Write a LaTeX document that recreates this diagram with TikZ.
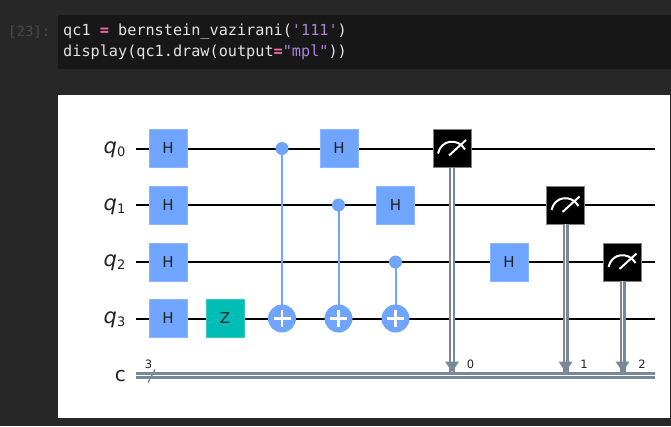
\documentclass[tikz,border=0pt]{standalone}
\usepackage{fontspec}
\setmainfont{DejaVu Sans}
\setmonofont{DejaVu Sans Mono}
\usetikzlibrary{arrows.meta,calc}
\definecolor{pagebg}{HTML}{272727}
\definecolor{cellbg}{HTML}{171717}
\definecolor{codefg}{HTML}{E4E4E4}
\definecolor{promptfg}{HTML}{4A4A4A}
\definecolor{kwpink}{HTML}{FF6AB0}
\definecolor{strpurple}{HTML}{A884E0}
\definecolor{gateblue}{HTML}{6FA4FF}
\definecolor{gateteal}{HTML}{00BDB5}
\definecolor{classic}{HTML}{778899}
\definecolor{labelfg}{HTML}{222222}
\tikzset{
  x=1pt,y=-1pt,
  wire/.style={draw=black,line width=2pt},
  gatebox/.style={draw=gateblue!80!white,line width=.4pt,fill=gateblue,minimum size=38pt,inner sep=0pt,text=labelfg,font=\fontsize{15}{15}\selectfont},
  zbox/.style={gatebox,draw=gateteal!80!white,fill=gateteal},
  measbox/.style={draw=gray,line width=.4pt,fill=black,minimum size=38pt,inner sep=0pt},
  ctrl/.style={circle,fill=gateblue,minimum size=13pt,inner sep=0pt},
  target/.style={circle,fill=gateblue,minimum size=28pt,inner sep=0pt},
  ctrlline/.style={draw=gateblue,line width=2pt},
  qlabel/.style={anchor=east,text=labelfg,font=\fontsize{21}{21}\selectfont\itshape,inner sep=0pt},
  numlabel/.style={text=labelfg,font=\fontsize{11.5}{12}\selectfont,inner sep=0pt},
  codeline/.style={anchor=west,inner sep=0pt,text=codefg,font=\ttfamily\fontsize{15.2}{15.2}\selectfont},
}
\newcommand{\plussign}[1]{%
  \draw[white,line width=2.2pt] ($(#1)+(-8.5,0)$) -- ($(#1)+(8.5,0)$);
  \draw[white,line width=2.2pt] ($(#1)+(0,-8.5)$) -- ($(#1)+(0,8.5)$);}
\newcommand{\meter}[1]{%
  \draw[white,line width=2pt] ($(#1)+(-14,5)$) .. controls ($(#1)+(-11,-9)$) and ($(#1)+(6,-11)$) .. ($(#1)+(13,1)$);
  \draw[white,line width=2pt] ($(#1)+(-3,7)$) -- ($(#1)+(14,-8.5)$);}
\newcommand{\readout}[2]{%
  \draw[classic,line width=6pt] (#1) -- (#2);
  \draw[white,line width=1.4pt] (#1) -- (#2);
  \fill[classic] ($(#2)+(-7,-10.5)$) -- ($(#2)+(7,-10.5)$) -- (#2) -- cycle;}
\newcommand{\qsub}[1]{q\textsubscript{\normalfont\fontsize{13}{13}\selectfont #1}}
\begin{document}
\begin{tikzpicture}
\useasboundingbox (0,0) rectangle (671,426);
\fill[pagebg] (0,0) rectangle (671,426);
\fill[cellbg] (58,15) rectangle (671,69);
\fill[white] (58,95) rectangle (670,418);
% code
\node[anchor=west,inner sep=0pt,text=promptfg,font=\ttfamily\fontsize{14}{14}\selectfont] (prompt) at (8,32) {[23]:};
\node[codeline] (l1) at (63,32) {qc1 \textcolor{kwpink}{\textbf{=}} bernstein\_vazirani(\textcolor{strpurple}{'111'})};
\node[codeline] (l2) at (63,52) {display(qc1.draw(output\textcolor{kwpink}{\textbf{=}}\textcolor{strpurple}{"mpl"}))};
% wire ends
\foreach \n/\y in {0/148.5,1/205,2/262,3/318.5}{
  \coordinate (ws\n) at (135.5,\y);
  \coordinate (we\n) at (655,\y);
  \draw[wire] (ws\n) -- (we\n);
}
\coordinate (cs) at (135.5,375.5);
\coordinate (ce) at (655,375.5);
\draw[classic,line width=6.6pt] (cs) -- (ce);
\draw[white,line width=1.2pt] (cs) -- (ce);
\coordinate (sa) at (148,382.5);
\coordinate (sb) at (155,369.5);
\draw[classic,line width=1.3pt] (sa) -- (sb);
\node[numlabel] (cnt) at (148.5,364) {3};
% labels
\node[qlabel] (lq0) at (126,150) {\qsub{0}};
\node[qlabel] (lq1) at (126,207) {\qsub{1}};
\node[qlabel] (lq2) at (126,263) {\qsub{2}};
\node[qlabel] (lq3) at (126,320) {\qsub{3}};
\node[anchor=east,inner sep=0pt,text=labelfg,font=\fontsize{20}{20}\selectfont] (lc) at (126,376) {c};
% gates
\node[gatebox] (h0) at (168,148.5) {H};
\node[gatebox] (h1) at (168,205) {H};
\node[gatebox] (h2) at (168,262) {H};
\node[gatebox] (h3) at (168,318.5) {H};
\node[zbox] (z) at (225,318.5) {Z};
% CNOTs
\node[ctrl] (c0) at (282,148.5) {};
\node[target] (t0) at (282,318.5) {};
\draw[ctrlline] (c0.center) -- (t0.center);
\node[ctrl] (c1) at (338.5,205) {};
\node[target] (t1) at (338.5,318.5) {};
\draw[ctrlline] (c1.center) -- (t1.center);
\node[ctrl] (c2) at (395.5,262) {};
\node[target] (t2) at (395.5,318.5) {};
\draw[ctrlline] (c2.center) -- (t2.center);
\plussign{t0}\plussign{t1}\plussign{t2}
\node[gatebox] (h4) at (339,148.5) {H};
\node[gatebox] (h5) at (395.5,205) {H};
\node[gatebox] (h6) at (509,262) {H};
% measures
\coordinate (a0) at (452,372);
\coordinate (a1) at (565.5,372);
\coordinate (a2) at (622.5,372);
\node[measbox] (m0) at (452,148.5) {};
\node[measbox] (m1) at (565.5,205) {};
\node[measbox] (m2) at (622.5,262) {};
\readout{m0.south}{a0}
\readout{m1.south}{a1}
\readout{m2.south}{a2}
\meter{m0}\meter{m1}\meter{m2}
\node[numlabel] (n0) at (470.5,364) {0};
\node[numlabel] (n1) at (584,364) {1};
\node[numlabel] (n2) at (642,364) {2};
\end{tikzpicture}
\end{document}
